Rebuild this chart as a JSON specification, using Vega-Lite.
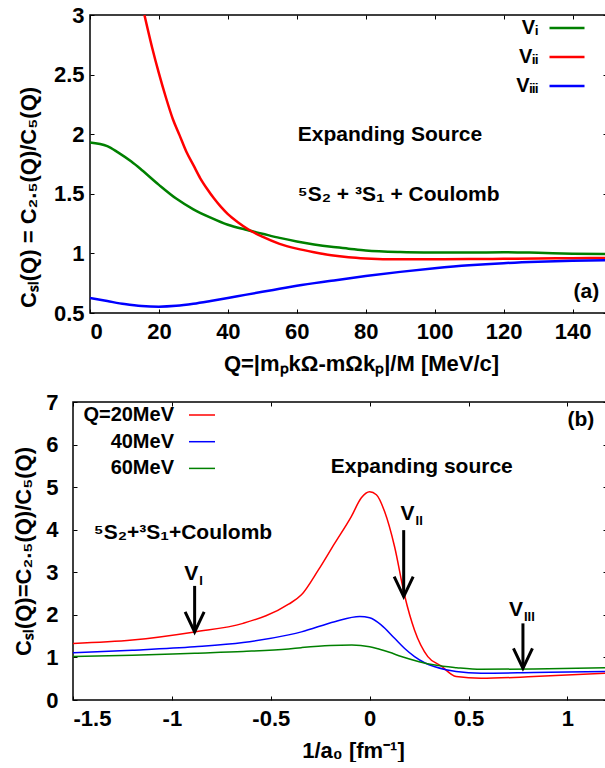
{
  "$schema": "https://vega.github.io/schema/vega-lite/v6.json",
  "padding": {"left": 0, "top": 3, "right": 0, "bottom": 0},
  "spacing": 15,
  "resolve": {"scale": {"color": "independent"}, "legend": {"color": "independent"}},
  "config": {
    "font": "Liberation Sans",
    "view": {"stroke": "black", "strokeWidth": 1.5},
    "axis": {
      "labelFont": "Liberation Sans", "labelFontSize": 22, "labelFontWeight": "bold", "labelColor": "black",
      "titleFont": "Liberation Sans", "titleFontSize": 22, "titleFontWeight": "bold", "titleColor": "black",
      "grid": false, "domain": false, "ticks": true, "tickColor": "black", "tickSize": -4, "tickWidth": 1
    },
    "legend": {"labelFont": "Liberation Sans", "labelFontSize": 20, "labelFontWeight": "bold", "labelColor": "black", "padding": 0, "symbolType": "stroke", "labelAlign": "right"},
    "text": {"font": "Liberation Sans", "fontWeight": "bold", "fontSize": 21, "color": "black"}
  },
  "datasets": {
    "curvesA": [
      {"series": "V_I", "Q": 0, "C": 1.93}, {"series": "V_I", "Q": 5, "C": 1.9}, {"series": "V_I", "Q": 8, "C": 1.85},
      {"series": "V_I", "Q": 12, "C": 1.77}, {"series": "V_I", "Q": 15, "C": 1.7}, {"series": "V_I", "Q": 20, "C": 1.575},
      {"series": "V_I", "Q": 25, "C": 1.46}, {"series": "V_I", "Q": 30, "C": 1.37}, {"series": "V_I", "Q": 35, "C": 1.3},
      {"series": "V_I", "Q": 40, "C": 1.24}, {"series": "V_I", "Q": 45, "C": 1.2}, {"series": "V_I", "Q": 50, "C": 1.165},
      {"series": "V_I", "Q": 55, "C": 1.13}, {"series": "V_I", "Q": 60, "C": 1.1}, {"series": "V_I", "Q": 65, "C": 1.075},
      {"series": "V_I", "Q": 70, "C": 1.055}, {"series": "V_I", "Q": 75, "C": 1.04}, {"series": "V_I", "Q": 80, "C": 1.025},
      {"series": "V_I", "Q": 90, "C": 1.012}, {"series": "V_I", "Q": 100, "C": 1.008}, {"series": "V_I", "Q": 110, "C": 1.007},
      {"series": "V_I", "Q": 120, "C": 1.01}, {"series": "V_I", "Q": 130, "C": 1.005}, {"series": "V_I", "Q": 140, "C": 0.998},
      {"series": "V_I", "Q": 150, "C": 0.995},
      {"series": "V_II", "Q": 15.8, "C": 3.0}, {"series": "V_II", "Q": 18, "C": 2.73}, {"series": "V_II", "Q": 20, "C": 2.51},
      {"series": "V_II", "Q": 22, "C": 2.31}, {"series": "V_II", "Q": 24, "C": 2.13}, {"series": "V_II", "Q": 26, "C": 1.99},
      {"series": "V_II", "Q": 28, "C": 1.85}, {"series": "V_II", "Q": 30, "C": 1.74}, {"series": "V_II", "Q": 32, "C": 1.63},
      {"series": "V_II", "Q": 34, "C": 1.54}, {"series": "V_II", "Q": 36, "C": 1.46}, {"series": "V_II", "Q": 38, "C": 1.39},
      {"series": "V_II", "Q": 40, "C": 1.33}, {"series": "V_II", "Q": 43, "C": 1.26}, {"series": "V_II", "Q": 46, "C": 1.2},
      {"series": "V_II", "Q": 50, "C": 1.14}, {"series": "V_II", "Q": 55, "C": 1.08}, {"series": "V_II", "Q": 60, "C": 1.04},
      {"series": "V_II", "Q": 65, "C": 1.01}, {"series": "V_II", "Q": 70, "C": 0.985}, {"series": "V_II", "Q": 75, "C": 0.968},
      {"series": "V_II", "Q": 80, "C": 0.958}, {"series": "V_II", "Q": 90, "C": 0.95}, {"series": "V_II", "Q": 100, "C": 0.95},
      {"series": "V_II", "Q": 110, "C": 0.952}, {"series": "V_II", "Q": 120, "C": 0.955}, {"series": "V_II", "Q": 130, "C": 0.958},
      {"series": "V_II", "Q": 140, "C": 0.96}, {"series": "V_II", "Q": 150, "C": 0.962},
      {"series": "V_III", "Q": 0, "C": 0.625}, {"series": "V_III", "Q": 5, "C": 0.6}, {"series": "V_III", "Q": 10, "C": 0.575},
      {"series": "V_III", "Q": 15, "C": 0.558}, {"series": "V_III", "Q": 20, "C": 0.553}, {"series": "V_III", "Q": 25, "C": 0.56},
      {"series": "V_III", "Q": 30, "C": 0.577}, {"series": "V_III", "Q": 35, "C": 0.6}, {"series": "V_III", "Q": 40, "C": 0.625},
      {"series": "V_III", "Q": 45, "C": 0.652}, {"series": "V_III", "Q": 50, "C": 0.678}, {"series": "V_III", "Q": 55, "C": 0.703},
      {"series": "V_III", "Q": 60, "C": 0.728}, {"series": "V_III", "Q": 70, "C": 0.77}, {"series": "V_III", "Q": 80, "C": 0.81},
      {"series": "V_III", "Q": 90, "C": 0.845}, {"series": "V_III", "Q": 100, "C": 0.875}, {"series": "V_III", "Q": 110, "C": 0.9},
      {"series": "V_III", "Q": 120, "C": 0.918}, {"series": "V_III", "Q": 130, "C": 0.93}, {"series": "V_III", "Q": 140, "C": 0.938},
      {"series": "V_III", "Q": 150, "C": 0.942}
    ],
    "notesA": [
      {"label": "Expanding Source", "Q": 60.3, "C": 1.99},
      {"label": "⁵S₂ + ³S₁ + Coulomb", "Q": 60.3, "C": 1.49},
      {"label": "(a)", "Q": 140.3, "C": 0.68}
    ],
    "curvesB": [
      {"series": "Q=20MeV", "x": -1.5, "C": 1.33}, {"series": "Q=20MeV", "x": -1.2, "C": 1.41}, {"series": "Q=20MeV", "x": -0.885, "C": 1.6},
      {"series": "Q=20MeV", "x": -0.64, "C": 1.8}, {"series": "Q=20MeV", "x": -0.41, "C": 2.25}, {"series": "Q=20MeV", "x": -0.345, "C": 2.47},
      {"series": "Q=20MeV", "x": -0.26, "C": 3.05}, {"series": "Q=20MeV", "x": -0.177, "C": 3.68}, {"series": "Q=20MeV", "x": -0.093, "C": 4.31},
      {"series": "Q=20MeV", "x": -0.042, "C": 4.75}, {"series": "Q=20MeV", "x": 0.0, "C": 4.89}, {"series": "Q=20MeV", "x": 0.034, "C": 4.82},
      {"series": "Q=20MeV", "x": 0.076, "C": 4.42}, {"series": "Q=20MeV", "x": 0.126, "C": 3.6}, {"series": "Q=20MeV", "x": 0.177, "C": 2.45},
      {"series": "Q=20MeV", "x": 0.227, "C": 1.64}, {"series": "Q=20MeV", "x": 0.294, "C": 1.02}, {"series": "Q=20MeV", "x": 0.361, "C": 0.8},
      {"series": "Q=20MeV", "x": 0.437, "C": 0.55}, {"series": "Q=20MeV", "x": 0.563, "C": 0.51}, {"series": "Q=20MeV", "x": 0.83, "C": 0.55},
      {"series": "Q=20MeV", "x": 1.2, "C": 0.63},
      {"series": "40MeV", "x": -1.5, "C": 1.11}, {"series": "40MeV", "x": -1.2, "C": 1.17}, {"series": "40MeV", "x": -0.885, "C": 1.25},
      {"series": "40MeV", "x": -0.64, "C": 1.35}, {"series": "40MeV", "x": -0.41, "C": 1.53}, {"series": "40MeV", "x": -0.345, "C": 1.6},
      {"series": "40MeV", "x": -0.177, "C": 1.84}, {"series": "40MeV", "x": -0.05, "C": 1.96}, {"series": "40MeV", "x": 0.0, "C": 1.93},
      {"series": "40MeV", "x": 0.059, "C": 1.76}, {"series": "40MeV", "x": 0.126, "C": 1.45}, {"series": "40MeV", "x": 0.177, "C": 1.21},
      {"series": "40MeV", "x": 0.227, "C": 1.02}, {"series": "40MeV", "x": 0.28, "C": 0.87}, {"series": "40MeV", "x": 0.33, "C": 0.78},
      {"series": "40MeV", "x": 0.437, "C": 0.67}, {"series": "40MeV", "x": 0.563, "C": 0.63}, {"series": "40MeV", "x": 0.83, "C": 0.645},
      {"series": "40MeV", "x": 1.2, "C": 0.67},
      {"series": "60MeV", "x": -1.5, "C": 1.02}, {"series": "60MeV", "x": -1.2, "C": 1.05}, {"series": "60MeV", "x": -0.885, "C": 1.1},
      {"series": "60MeV", "x": -0.64, "C": 1.14}, {"series": "60MeV", "x": -0.41, "C": 1.2}, {"series": "60MeV", "x": -0.345, "C": 1.23},
      {"series": "60MeV", "x": -0.2, "C": 1.28}, {"series": "60MeV", "x": -0.09, "C": 1.29}, {"series": "60MeV", "x": 0.0, "C": 1.25},
      {"series": "60MeV", "x": 0.05, "C": 1.19}, {"series": "60MeV", "x": 0.1, "C": 1.12}, {"series": "60MeV", "x": 0.16, "C": 1.02},
      {"series": "60MeV", "x": 0.25, "C": 0.9}, {"series": "60MeV", "x": 0.33, "C": 0.82}, {"series": "60MeV", "x": 0.44, "C": 0.76},
      {"series": "60MeV", "x": 0.563, "C": 0.72}, {"series": "60MeV", "x": 0.83, "C": 0.73}, {"series": "60MeV", "x": 1.2, "C": 0.76}
    ],
    "notesB": [
      {"label": "Expanding source", "x": -0.197, "C": 5.48},
      {"label": "⁵S₂+³S₁+Coulomb", "x": -1.395, "C": 3.92},
      {"label": "(b)", "x": 1.0, "C": 6.58}
    ],
    "arrowsB": [
      {"x": -0.885, "ytop": 2.68, "ytip": 1.6, "lx": -0.867, "ly": 2.96, "sub": "I"},
      {"x": 0.172, "ytop": 3.99, "ytip": 2.43, "lx": 0.227, "ly": 4.37, "sub": "II"},
      {"x": 0.775, "ytop": 1.8, "ytip": 0.745, "lx": 0.775, "ly": 2.107, "sub": "III"}
    ]
  },
  "vconcat": [
    {
      "spacing": 0,
      "resolve": {"scale": {"color": "independent"}, "legend": {"color": "independent"}},
      "hconcat": [
        {"width": 16, "height": 10, "view": {"stroke": null}, "data": {"values": [{}]}, "mark": {"type": "text", "text": ""}},
        {
          "width": 517, "height": 298,
          "resolve": {"axis": {"x": "independent", "y": "independent"}},
          "layer": [
            {
              "mark": {"type": "rule", "color": "#808080", "strokeWidth": 1, "strokeDash": [1.5, 1.5]},
              "encoding": {"y": {"datum": 1, "type": "quantitative", "axis": null}}
            },
            {
              "data": {"name": "curvesA"},
              "mark": {"type": "line", "strokeWidth": 2.5, "interpolate": "monotone"},
              "encoding": {
                "x": {"field": "Q", "type": "quantitative", "scale": {"domain": [0, 150], "nice": false, "zero": false},
                      "axis": {"orient": "bottom", "values": [0, 20, 40, 60, 80, 100, 120, 140], "title": "Q=|mₚkΩ-mΩkₚ|/M [MeV/c]", "labelPadding": 12, "titleX": 271, "titleY": 50, "titleBaseline": "middle"}},
                "y": {"field": "C", "type": "quantitative", "scale": {"domain": [0.5, 3], "nice": false, "zero": false},
                      "axis": {"orient": "left", "values": [0.5, 1, 1.5, 2, 2.5, 3], "labelExpr": "'' + datum.value", "title": "Cₛₗ(Q) = C₂.₅(Q)/C₅(Q)", "labelPadding": 10, "titleX": -62, "titleY": 182, "titleBaseline": "middle"}},
                "color": {"field": "series", "type": "nominal", "sort": null,
                          "scale": {"domain": ["V_I", "V_II", "V_III"], "range": ["#008000", "#ff0000", "#0000ff"]},
                          "legend": {"title": null, "orient": "none", "legendX": 458, "legendY": -6, "symbolSize": 1225, "symbolStrokeWidth": 2.5, "labelOffset": -48, "rowPadding": -9, "labelAlign": "right",
                                     "labelExpr": "datum.label == 'V_I' ? 'Vᵢ' : datum.label == 'V_II' ? 'Vᵢᵢ' : 'Vᵢᵢᵢ'"}}
              }
            },
            {
              "data": {"name": "notesA"},
              "mark": {"type": "text", "align": "left", "baseline": "middle"},
              "encoding": {
                "x": {"field": "Q", "type": "quantitative", "scale": {"domain": [0, 150], "nice": false, "zero": false},
                      "axis": {"orient": "top", "labels": false, "title": null, "values": [0, 20, 40, 60, 80, 100, 120, 140]}},
                "y": {"field": "C", "type": "quantitative", "scale": {"domain": [0.5, 3], "nice": false, "zero": false},
                      "axis": {"orient": "right", "labels": false, "title": null, "values": [0.5, 1, 1.5, 2, 2.5, 3]}},
                "text": {"field": "label"}
              }
            }
          ]
        }
      ]
    },
    {
      "spacing": 0,
      "resolve": {"scale": {"color": "independent"}, "legend": {"color": "independent"}},
      "hconcat": [
        {"width": 11, "height": 10, "view": {"stroke": null}, "data": {"values": [{}]}, "mark": {"type": "text", "text": ""}},
        {
          "width": 534, "height": 298,
          "resolve": {"axis": {"x": "independent", "y": "independent"}},
          "layer": [
            {
              "mark": {"type": "rule", "color": "#808080", "strokeWidth": 1, "strokeDash": [1.5, 1.5]},
              "encoding": {"y": {"datum": 1, "type": "quantitative", "axis": null}}
            },
            {
              "data": {"name": "curvesB"},
              "mark": {"type": "line", "strokeWidth": 1.5, "interpolate": "monotone"},
              "encoding": {
                "x": {"field": "x", "type": "quantitative", "scale": {"domain": [-1.5, 1.2], "nice": false, "zero": false},
                      "axis": {"orient": "bottom", "values": [-1.5, -1, -0.5, 0, 0.5, 1], "labelExpr": "'' + datum.value", "title": "1/a₀ [fm⁻¹]", "labelPadding": 12, "titleX": 280, "titleY": 50, "titleBaseline": "middle"}},
                "y": {"field": "C", "type": "quantitative", "scale": {"domain": [0, 7], "nice": false, "zero": false},
                      "axis": {"orient": "left", "values": [0, 1, 2, 3, 4, 5, 6, 7], "title": "Cₛₗ(Q)=C₂.₅(Q)/C₅(Q)", "labelPadding": 19, "titleX": -50, "titleBaseline": "middle"}},
                "color": {"field": "series", "type": "nominal", "sort": null,
                          "scale": {"domain": ["Q=20MeV", "40MeV", "60MeV"], "range": ["#ff0000", "#0000ff", "#008000"]},
                          "legend": {"title": null, "orient": "none", "legendX": 115, "legendY": -1, "symbolSize": 676, "symbolStrokeWidth": 1.5, "labelOffset": -42, "rowPadding": 2.7, "labelAlign": "right"}}
              }
            },
            {
              "data": {"name": "notesB"},
              "mark": {"type": "text", "align": "left", "baseline": "middle"},
              "encoding": {
                "x": {"field": "x", "type": "quantitative", "scale": {"domain": [-1.5, 1.2], "nice": false, "zero": false},
                      "axis": {"orient": "top", "labels": false, "title": null, "values": [-1.5, -1, -0.5, 0, 0.5, 1]}},
                "y": {"field": "C", "type": "quantitative", "scale": {"domain": [0, 7], "nice": false, "zero": false},
                      "axis": {"orient": "right", "labels": false, "title": null, "values": [0, 1, 2, 3, 4, 5, 6, 7]}},
                "text": {"field": "label"}
              }
            },
            {
              "data": {"name": "arrowsB"},
              "mark": {"type": "rule", "color": "black", "strokeWidth": 3},
              "encoding": {
                "x": {"field": "x", "type": "quantitative", "axis": null},
                "y": {"field": "ytop", "type": "quantitative", "axis": null},
                "y2": {"field": "ytip"}
              }
            },
            {
              "data": {"name": "arrowsB"},
              "mark": {"type": "point", "shape": "M-0.95,-2L0,0L0.95,-2", "size": 400, "filled": false, "color": "black", "strokeWidth": 3, "opacity": 1},
              "encoding": {
                "x": {"field": "x", "type": "quantitative", "axis": null},
                "y": {"field": "ytip", "type": "quantitative", "axis": null}
              }
            },
            {
              "data": {"name": "arrowsB"},
              "mark": {"type": "text", "text": "V", "align": "right", "baseline": "middle", "fontSize": 21},
              "encoding": {
                "x": {"field": "lx", "type": "quantitative", "axis": null},
                "y": {"field": "ly", "type": "quantitative", "axis": null}
              }
            },
            {
              "data": {"name": "arrowsB"},
              "mark": {"type": "text", "align": "left", "baseline": "middle", "fontSize": 13, "dx": 1, "dy": 7},
              "encoding": {
                "x": {"field": "lx", "type": "quantitative", "axis": null},
                "y": {"field": "ly", "type": "quantitative", "axis": null},
                "text": {"field": "sub"}
              }
            }
          ]
        }
      ]
    }
  ]
}
